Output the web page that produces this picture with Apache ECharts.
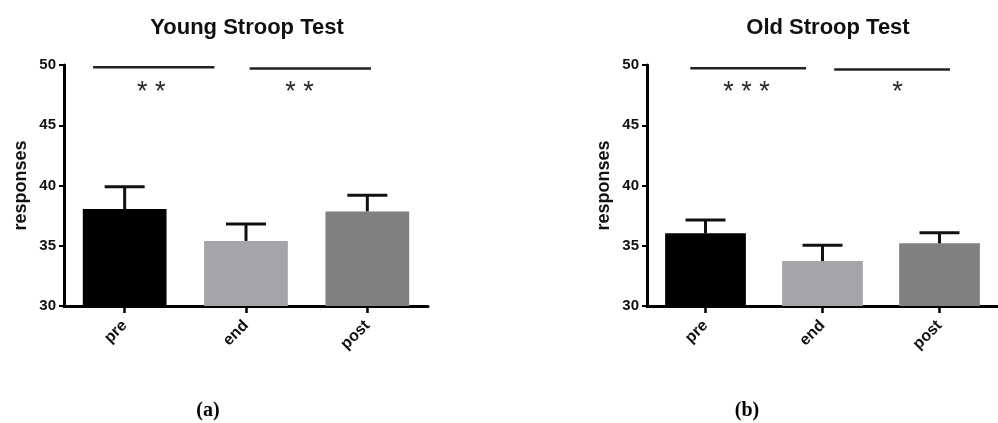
<!DOCTYPE html>
<html>
<head>
<meta charset="utf-8">
<script src="https://cdn.jsdelivr.net/npm/echarts@6/dist/echarts.min.js"></script>
<style>
    html, body { margin: 0; padding: 0; background: #fff; }
    #main { width: 998px; height: 423px; }
</style>
</head>
<body>
<div id="main"></div>
<script>
// data
const categories = ['pre', 'end', 'post'];
const yTicks = [30, 35, 40, 45, 50];

const youngMean = [38.05, 35.4, 37.85];
const youngErr = [1.85, 1.4, 1.35];
const oldMean = [36.03, 33.73, 35.2];
const oldErr = [1.11, 1.31, 0.88];

// significance brackets: [from, to, level] in category units (pre = 0)
const youngBrackets = [[-0.26, 0.74, 49.82], [1.03, 2.03, 49.7]];
const oldBrackets = [[-0.13, 0.86, 49.72], [1.1, 2.09, 49.62]];
// stars: [x, y, text]
const youngStars = [[0.22, 47.75, '* *'], [1.44, 47.75, '* *']];
const oldStars = [[0.35, 47.75, '* * *'], [1.64, 47.75, '*']];

const titles = ['Young Stroop Test', 'Old Stroop Test'];
const captions = ['(a)', '(b)'];
const yName = 'responses';

const barColors = ['#000000', '#a4a4a9', '#808080'];
const fontSans = 'Liberation Sans, Arial, sans-serif';

let myChart = echarts.init(document.getElementById('main'), null, { renderer: 'canvas' });

function catAxis(gridIndex) {
    return {
        type: 'category',
        gridIndex: gridIndex,
        data: categories,
        axisLine: { onZero: false, lineStyle: { color: '#000', width: 3 } },
        axisTick: { show: true, alignWithLabel: true, length: 7, lineStyle: { color: '#000', width: 2.5 } },
        axisLabel: {
            rotate: 45, margin: 17, interval: 0,
            color: '#111', fontFamily: fontSans, fontWeight: 'bold', fontSize: 16
        }
    };
}

function hiddenAxis(gridIndex) {
    return { type: 'value', gridIndex: gridIndex, min: -0.5, max: 2.5, show: false };
}

function valAxis(gridIndex) {
    return {
        type: 'value',
        gridIndex: gridIndex,
        min: yTicks[0], max: yTicks[yTicks.length - 1], interval: 5,
        name: yName,
        nameLocation: 'middle',
        nameRotate: 90,
        nameGap: 34,
        nameTextStyle: { color: '#111', fontFamily: fontSans, fontWeight: 'bold', fontSize: 18 },
        axisLine: { show: true, onZero: false, lineStyle: { color: '#000', width: 3 } },
        axisTick: { show: true, length: 5, lineStyle: { color: '#000', width: 2 } },
        axisLabel: { margin: 8, color: '#111', fontFamily: fontSans, fontWeight: 'bold', fontSize: 15 },
        splitLine: { show: false }
    };
}

function barSeries(gridIndex, means) {
    return {
        type: 'bar',
        xAxisIndex: gridIndex,
        yAxisIndex: gridIndex,
        barWidth: '69%',
        data: means.map((v, i) => ({ value: v, itemStyle: { color: barColors[i] } })),
        z: 2
    };
}

function errorSeries(gridIndex, means, errs) {
    return {
        type: 'custom',
        xAxisIndex: gridIndex,
        yAxisIndex: gridIndex,
        data: means.map((v, i) => [i, v, v + errs[i]]),
        renderItem: function (params, api) {
            let base = api.coord([api.value(0), api.value(1)]);
            let top = api.coord([api.value(0), api.value(2)]);
            let style = { stroke: '#111', lineWidth: 3 };
            return {
                type: 'group',
                children: [
                    { type: 'line', shape: { x1: base[0], y1: base[1], x2: top[0], y2: top[1] }, style: style },
                    { type: 'line', shape: { x1: top[0] - 20, y1: top[1], x2: top[0] + 20, y2: top[1] }, style: style }
                ]
            };
        },
        z: 3
    };
}

function bracketSeries(gridIndex, brackets) {
    return brackets.map(b => ({
        type: 'line',
        xAxisIndex: gridIndex + 2,
        yAxisIndex: gridIndex,
        data: [[b[0], b[2]], [b[1], b[2]]],
        symbol: 'none',
        silent: true,
        lineStyle: { color: '#222', width: 2.5 }
    }));
}

function starSeries(gridIndex, stars) {
    return {
        type: 'custom',
        xAxisIndex: gridIndex + 2,
        yAxisIndex: gridIndex,
        data: stars,
        renderItem: function (params, api) {
            let p = api.coord([api.value(0), api.value(1)]);
            return {
                type: 'text',
                x: p[0], y: p[1],
                style: {
                    text: stars[params.dataIndex][2],
                    font: '27px ' + fontSans,
                    fill: '#2a2a2a',
                    textAlign: 'center',
                    textVerticalAlign: 'middle'
                }
            };
        }
    };
}

let option = {
    animation: false,
    backgroundColor: '#fff',
    grid: [
        { left: 64, top: 65, width: 364, height: 241 },
        { left: 647, top: 65, width: 363, height: 241 }
    ],
    xAxis: [catAxis(0), catAxis(1), hiddenAxis(0), hiddenAxis(1)],
    yAxis: [valAxis(0), valAxis(1)],
    graphic: [
        { type: 'text', x: 247, y: 28, style: { text: titles[0], font: 'bold 22px ' + fontSans, fill: '#111', textAlign: 'center', textVerticalAlign: 'middle' } },
        { type: 'text', x: 828, y: 28, style: { text: titles[1], font: 'bold 22px ' + fontSans, fill: '#111', textAlign: 'center', textVerticalAlign: 'middle' } },
        { type: 'text', x: 208, y: 411, style: { text: captions[0], font: 'bold 20px "Liberation Serif", serif', fill: '#000', textAlign: 'center', textVerticalAlign: 'middle' } },
        { type: 'text', x: 747, y: 411, style: { text: captions[1], font: 'bold 20px "Liberation Serif", serif', fill: '#000', textAlign: 'center', textVerticalAlign: 'middle' } }
    ],
    series: [
        barSeries(0, youngMean),
        errorSeries(0, youngMean, youngErr),
        barSeries(1, oldMean),
        errorSeries(1, oldMean, oldErr),
        starSeries(0, youngStars),
        starSeries(1, oldStars)
    ].concat(bracketSeries(0, youngBrackets), bracketSeries(1, oldBrackets))
};

myChart.setOption(option);
</script>
</body>
</html>
